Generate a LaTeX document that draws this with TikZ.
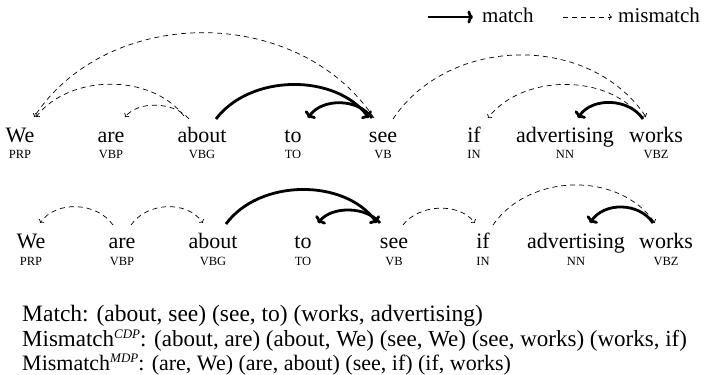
\documentclass[tikz,border=0pt]{standalone}
\usepackage{fontspec}
\setmainfont{Liberation Serif}
\usetikzlibrary{arrows.meta}
\newcommand{\supit}[1]{\raisebox{0.75ex}{\fontsize{13}{14}\selectfont\textit{#1}}}
\begin{document}
\begin{tikzpicture}[x=1pt,y=-1pt,
  word/.style={anchor=base,inner sep=0pt,font=\fontsize{22}{26}\selectfont},
  tag/.style={anchor=base,inner sep=0pt,font=\fontsize{12.5}{14}\selectfont},
  note/.style={anchor=base west,inner sep=0pt,font=\fontsize{23}{26}\selectfont},
  legtext/.style={anchor=base west,inner sep=0pt,font=\fontsize{21}{24}\selectfont},
  matcharc/.style={line width=2.8pt,-{To[length=5.5pt,width=13pt]}},
  misarc/.style={line width=0.7pt,dash pattern=on 5pt off 4pt,-{To[length=3pt,width=6pt]}}]
\useasboundingbox (0,0) rectangle (705,375);

% legend
\coordinate (lmA) at (428,17);
\coordinate (lmB) at (473,17);
\node[legtext] (lmt) at (482,22) {match};
\coordinate (lxA) at (563,17);
\coordinate (lxB) at (612,17);
\node[legtext] (lxt) at (618,22) {mismatch};
\draw[matcharc] (lmA) -- (lmB);
\draw[misarc] (lxA) -- (lxB);

% top row
\foreach \n/\w/\t/\x in {we/We/PRP/20, are/are/VBP/111, about/about/VBG/202, to/to/TO/293, see/see/VB/383, if/if/IN/474, adv/advertising/NN/565, works/works/VBZ/656}{
  \node[word] (t-\n) at (\x,142) {\w};
  \node[tag] (tt-\n) at (\x,158) {\t};
}
\coordinate (ta-we1) at (34,117);
\coordinate (ta-we2) at (36,117);
\coordinate (ta-are) at (125,117);
\coordinate (ta-aboutl) at (184,116);
\coordinate (ta-aboutl2) at (189,119);
\coordinate (ta-aboutr) at (216,119);
\coordinate (ta-to) at (308,118);
\coordinate (ta-seel) at (374,118);
\coordinate (ta-seel2) at (369,118);
\coordinate (ta-seel3) at (372,118);
\coordinate (ta-seer) at (393,119);
\coordinate (ta-if) at (488,118);
\coordinate (ta-adv) at (578,118);
\coordinate (ta-works1) at (646,117);
\coordinate (ta-works2) at (641,117);
\coordinate (ta-works3) at (643,119);

\draw[misarc] (ta-seel) .. controls +(-75,-113) and +(75,-113) .. (ta-we1);
\draw[misarc] (ta-aboutl) .. controls +(-33,-43) and +(33,-43) .. (ta-we2);
\draw[misarc] (ta-aboutl2) .. controls +(-14,-17) and +(14,-17) .. (ta-are);
\draw[matcharc] (ta-aboutr) .. controls +(34,-45) and +(-34,-45) .. (ta-seel2);
\draw[matcharc] (ta-seel3) .. controls +(-14,-20) and +(14,-20) .. (ta-to);
\draw[misarc] (ta-seer) .. controls +(56,-84) and +(-56,-84) .. (ta-works1);
\draw[misarc] (ta-works2) .. controls +(-34,-44) and +(34,-44) .. (ta-if);
\draw[matcharc] (ta-works3) .. controls +(-14,-21) and +(14,-21) .. (ta-adv);

% bottom row
\foreach \n/\w/\t/\x in {we/We/PRP/31, are/are/VBP/122, about/about/VBG/213, to/to/TO/303, see/see/VB/394, if/if/IN/483, adv/advertising/NN/576, works/works/VBZ/666}{
  \node[word] (b-\n) at (\x,248) {\w};
  \node[tag] (bt-\n) at (\x,265) {\t};
}
\coordinate (ba-we) at (40,223);
\coordinate (ba-arel) at (113,225);
\coordinate (ba-arer) at (131,225);
\coordinate (ba-aboutl) at (203,223);
\coordinate (ba-aboutr) at (226,224);
\coordinate (ba-to) at (318,223);
\coordinate (ba-seel) at (377,223);
\coordinate (ba-seel2) at (380,223);
\coordinate (ba-seer) at (403,225);
\coordinate (ba-ifl) at (475,223);
\coordinate (ba-ifr) at (493,225);
\coordinate (ba-adv) at (590,223);
\coordinate (ba-works1) at (655,223);
\coordinate (ba-works2) at (653,223);

\draw[misarc] (ba-arel) .. controls +(-16,-23) and +(16,-23) .. (ba-we);
\draw[misarc] (ba-arer) .. controls +(16,-23) and +(-16,-23) .. (ba-aboutl);
\draw[matcharc] (ba-aboutr) .. controls +(33,-45) and +(-33,-45) .. (ba-seel);
\draw[matcharc] (ba-seel2) .. controls +(-14,-17) and +(14,-17) .. (ba-to);
\draw[misarc] (ba-seer) .. controls +(16,-21) and +(-16,-21) .. (ba-ifl);
\draw[misarc] (ba-ifr) .. controls +(36,-52) and +(-36,-52) .. (ba-works1);
\draw[matcharc] (ba-works2) .. controls +(-14,-21) and +(14,-21) .. (ba-adv);

% notes
\node[note,font=\fontsize{23.5}{26}\selectfont] (n1) at (22,321) {Match: (about, see) (see, to) (works, advertising)};
\node[note] (n2) at (22,346) {Mismatch\supit{CDP}: (about, are) (about, We) (see, We) (see, works) (works, if)};
\node[note,font=\fontsize{22}{26}\selectfont] (n3) at (22,370) {Mismatch\supit{MDP}: (are, We) (are, about) (see, if) (if, works)};
\end{tikzpicture}
\end{document}
